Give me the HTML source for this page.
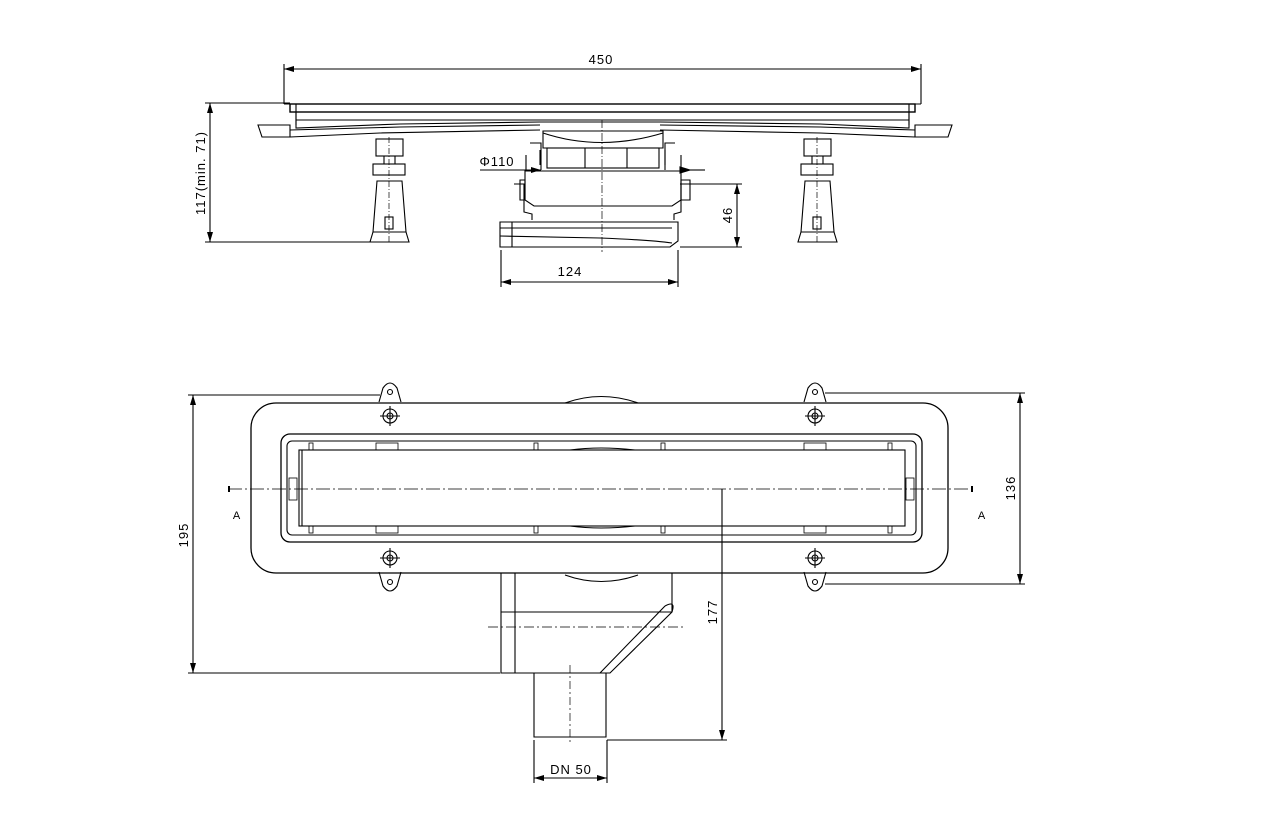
<!DOCTYPE html>
<html><head><meta charset="utf-8"><style>
html,body{margin:0;padding:0;background:#fff;}
svg{display:block;font-family:"Liberation Sans",sans-serif;}
</style></head><body>
<svg width="1282" height="839" viewBox="0 0 1282 839" xmlns="http://www.w3.org/2000/svg">
<defs>
<marker id="a" markerWidth="10" markerHeight="6" refX="10" refY="3" orient="auto-start-reverse" markerUnits="userSpaceOnUse"><path d="M0,0 L10,3 L0,6 z" fill="#000"/></marker>
</defs>
<g stroke="#000" stroke-width="1.1" fill="none">
<line x1="284" y1="64" x2="284" y2="104"/><line x1="921" y1="64" x2="921" y2="104"/>
<line x1="284" y1="69" x2="921" y2="69" marker-start="url(#a)" marker-end="url(#a)"/>
<rect x="290" y="104" width="625" height="8" stroke-width="1.4"/>
<path d="M284,104 H296 V125 M921,104 H909 V125" />
<path d="M258,125 H290 V137 H262 Z M952,125 H915 V137 H948 Z"/>
<path d="M296,112 L296,128 L400,124 L540,122 L660,122 L820,124 L909,128 L909,112"/>
<path d="M290,130 L400,127 L540,125 M290,137 L380,133 L540,130 M915,130 L820,127 L660,125 M915,137 L820,133 L660,130"/>
<line x1="296" y1="120" x2="909" y2="120"/>
<g id="foot">
<rect x="376" y="139" width="27" height="17"/>
<rect x="373" y="164" width="32" height="11"/>
<line x1="384" y1="156" x2="384" y2="164"/><line x1="395" y1="156" x2="395" y2="164"/>
<path d="M377,181 L402,181 L406,232 L373,232 Z"/>
<path d="M373,232 L370,242 L409,242 L406,232"/>
<rect x="385" y="217" width="8" height="12"/>
<line x1="389" y1="137" x2="389" y2="244" stroke-dasharray="6,2,1,2" stroke-width="0.7"/>
</g>
<use href="#foot" transform="translate(428,0)"/>
<path d="M543,131 L543,148 L663,148 L663,131 Z"/>
<path d="M543,133 Q600,152 663,133" />
<rect x="547" y="148" width="112" height="20"/>
<path d="M530,143 H541 V170 M675,143 H665 V170"/>
<path d="M526,155 V170 M681,155 V170"/>
<path d="M525,171 H681 V200 L672,206 L534,206 L525,200 Z"/>
<path d="M520,180 H525 V200 H520 Z M681,180 H690 V200 H681 Z"/>
<path d="M514,184 H524 V212 L532,214 L532,220 M690,184 H681 V212 L674,214 L674,220"/>
<path d="M500,222 H678 V241 L670,247 L500,247 Z"/>
<line x1="500" y1="228" x2="672" y2="228"/>
<path d="M500,236 L600,238 Q650,240 672,243"/>
<line x1="512" y1="222" x2="512" y2="247"/>
<line x1="602" y1="120" x2="602" y2="252" stroke-dasharray="8,2,1,2" stroke-width="0.7"/>
<line x1="540" y1="150" x2="540" y2="165"/><line x1="665" y1="150" x2="665" y2="165"/>
<line x1="585" y1="148" x2="585" y2="168"/><line x1="627" y1="148" x2="627" y2="168"/>
<line x1="480" y1="170" x2="541" y2="170" marker-end="url(#a)"/>
<line x1="690" y1="170" x2="705" y2="170"/>
<path d="M690,170 l-10,-3 v6 z" fill="#000"/>
<line x1="680" y1="184" x2="742" y2="184"/><line x1="680" y1="247" x2="742" y2="247"/>
<line x1="737" y1="184" x2="737" y2="247" marker-start="url(#a)" marker-end="url(#a)"/>
<line x1="501" y1="250" x2="501" y2="287"/><line x1="678" y1="250" x2="678" y2="287"/>
<line x1="501" y1="282" x2="678" y2="282" marker-start="url(#a)" marker-end="url(#a)"/>
<line x1="205" y1="103" x2="290" y2="103"/><line x1="205" y1="242" x2="375" y2="242"/>
<line x1="210" y1="103" x2="210" y2="242" marker-start="url(#a)" marker-end="url(#a)"/>

<path d="M565,403 Q601,390 638,403" /><path d="M565,575 Q601,588 638,575"/>
<rect x="251" y="403" width="697" height="170" rx="25" stroke-width="1.3"/>
<rect x="281" y="434" width="641" height="108" rx="9" stroke-width="1.3"/>
<rect x="287" y="441" width="629" height="94" rx="5"/>
<rect x="299" y="450" width="606" height="76"/>
<line x1="302" y1="450" x2="302" y2="526"/>
<path d="M570,450 Q600,446 635,450 M570,526 Q600,530 635,526"/>
<g stroke-width="0.8">
<rect x="376" y="443" width="22" height="7"/><rect x="804" y="443" width="22" height="7"/>
<rect x="376" y="526" width="22" height="7"/><rect x="804" y="526" width="22" height="7"/>
<rect x="309" y="443" width="4" height="7"/><rect x="534" y="443" width="4" height="7"/><rect x="661" y="443" width="4" height="7"/><rect x="888" y="443" width="4" height="7"/>
<rect x="309" y="526" width="4" height="7"/><rect x="534" y="526" width="4" height="7"/><rect x="661" y="526" width="4" height="7"/><rect x="888" y="526" width="4" height="7"/>
<rect x="289" y="478" width="8" height="22"/><rect x="906" y="478" width="8" height="22"/>
</g>
<g id="scr">
<circle cx="390" cy="416" r="7"/><circle cx="390" cy="416" r="3"/>
<line x1="380" y1="416" x2="400" y2="416"/><line x1="390" y1="406" x2="390" y2="426"/>
<path d="M379,402 L383,388 Q390,378 397,388 L401,402"/><circle cx="390" cy="392" r="2.5"/>
</g>
<use href="#scr" transform="translate(425,0)"/>
<use href="#scr" transform="translate(0,974) scale(1,-1)"/>
<use href="#scr" transform="translate(425,974) scale(1,-1)"/>
<line x1="228" y1="489" x2="975" y2="489" stroke-dasharray="14,3,2,3" stroke-width="0.8"/>
<line x1="229" y1="486" x2="229" y2="492" stroke-width="2"/><line x1="972" y1="486" x2="972" y2="492" stroke-width="2"/>
<path d="M501,573 V673 H610 L672,612 V573"/>
<line x1="515" y1="573" x2="515" y2="673"/>
<line x1="501" y1="612" x2="672" y2="612"/>
<path d="M600,673 L665,606 M672,612 Q676,600 665,606"/>
<line x1="488" y1="627" x2="683" y2="627" stroke-dasharray="10,3,2,3" stroke-width="0.7"/>
<path d="M534,673 V737 H606 V673"/>
<line x1="570" y1="665" x2="570" y2="745" stroke-dasharray="8,3,2,3" stroke-width="0.7"/>
<line x1="188" y1="395" x2="380" y2="395"/><line x1="188" y1="673" x2="500" y2="673"/>
<line x1="193" y1="395" x2="193" y2="673" marker-start="url(#a)" marker-end="url(#a)"/>
<line x1="825" y1="393" x2="1025" y2="393"/><line x1="825" y1="584" x2="1025" y2="584"/>
<line x1="1020" y1="393" x2="1020" y2="584" marker-start="url(#a)" marker-end="url(#a)"/>
<line x1="607" y1="740" x2="727" y2="740"/>
<line x1="722" y1="489" x2="722" y2="740" marker-end="url(#a)"/>
<line x1="534" y1="740" x2="534" y2="783"/><line x1="607" y1="740" x2="607" y2="783"/>
<line x1="534" y1="778" x2="607" y2="778" marker-start="url(#a)" marker-end="url(#a)"/>
</g>
<g font-size="13" fill="#000" letter-spacing="1">
<text x="601" y="64" text-anchor="middle">450</text>
<text x="497" y="166" text-anchor="middle">Φ110</text>
<text x="570" y="276" text-anchor="middle">124</text>
<text transform="translate(732,215) rotate(-90)" text-anchor="middle">46</text>
<text transform="translate(205,173) rotate(-90)" text-anchor="middle">117(min. 71)</text>
<text transform="translate(188,535) rotate(-90)" text-anchor="middle">195</text>
<text transform="translate(1015,488) rotate(-90)" text-anchor="middle">136</text>
<text transform="translate(717,612) rotate(-90)" text-anchor="middle">177</text>
<text x="571" y="774" text-anchor="middle">DN 50</text>
<text x="237" y="519" text-anchor="middle" font-size="11">A</text>
<text x="982" y="519" text-anchor="middle" font-size="11">A</text>
</g>
</svg>
</body></html>
